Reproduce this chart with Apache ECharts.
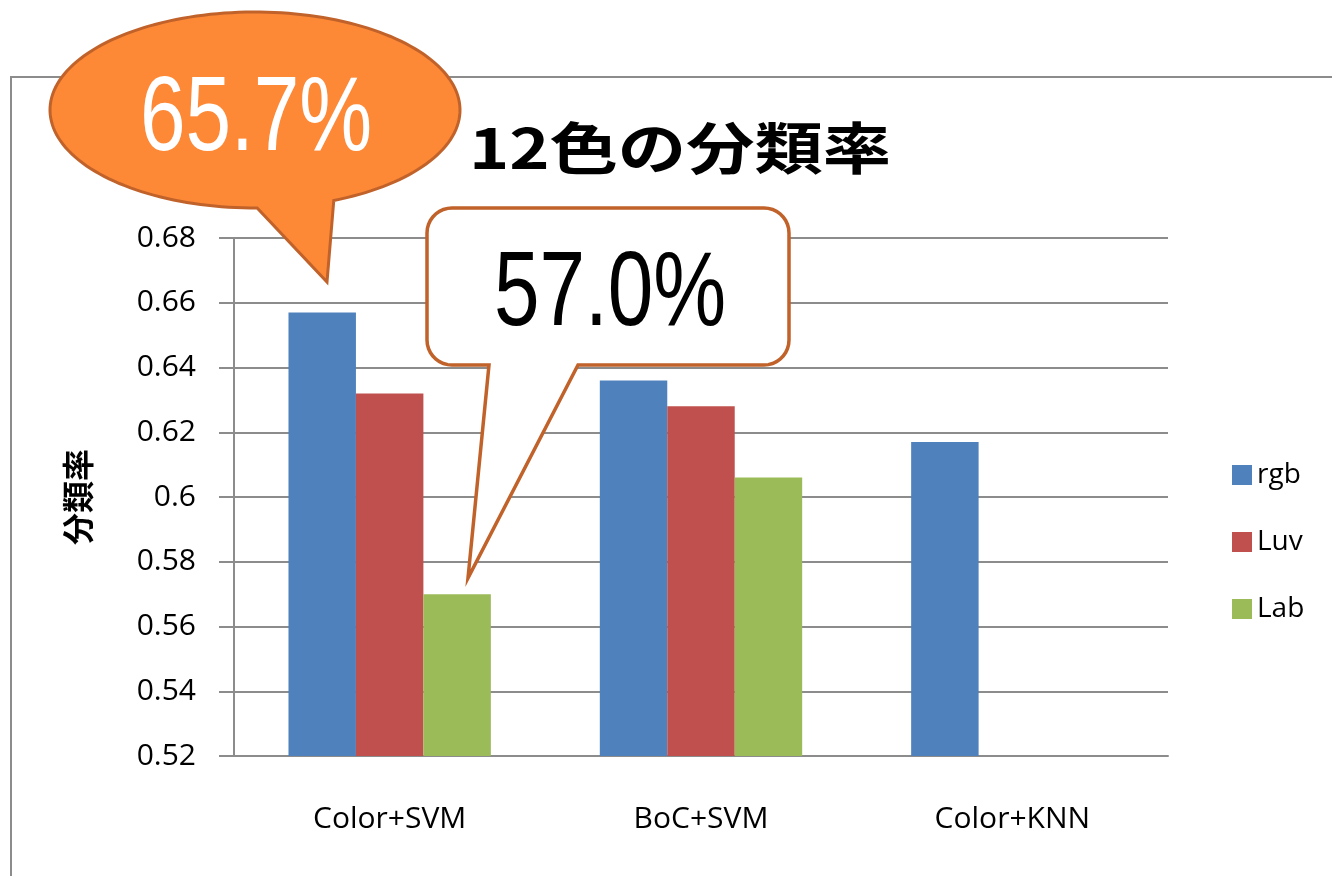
<!DOCTYPE html>
<html>
<head>
<meta charset="utf-8">
<script src="https://cdn.jsdelivr.net/npm/echarts@6/dist/echarts.min.js"></script>
<style>
  html, body { margin: 0; padding: 0; background: #fff; }
  #main { width: 1332px; height: 876px; }
</style>
</head>
<body>
<div id="main"></div>
<script>
// 分類手法
var categories = ['Color+SVM', 'BoC+SVM', 'Color+KNN'];
// 色空間ごとの分類率
var seriesNames = ['rgb', 'Luv', 'Lab'];
var rgbData = [0.657, 0.636, 0.617];
var luvData = [0.632, 0.628, null];
var labData = [0.570, 0.606, null];
var yMin = 0.52, yMax = 0.68, yStep = 0.02;
// 吹き出しの文字
var calloutOrange = '65.7%';
var calloutWhite = '57.0%';

var myChart = echarts.init(document.getElementById('main'));
var labelFont = '"Open Sans", "Noto Sans", sans-serif';
var gridGray = '#8c8c8c';

// 楕円の吹き出しの輪郭 (しっぽ付き)
function ellipseBubble(cx, cy, rx, ry, a0, a1, tip) {
    var pts = [];
    for (var a = a0; a <= a1; a += 2) {
        var t = a * Math.PI / 180;
        pts.push([cx + rx * Math.cos(t), cy + ry * Math.sin(t)]);
    }
    pts.push(tip);
    return pts;
}
// 角丸四角の吹き出しの輪郭 (下辺にしっぽ)
function roundBubble(x0, y0, x1, y1, r, baseL, baseR, tip) {
    var pts = [[baseL, y1]];
    function corner(cx, cy, from) {
        for (var a = from; a <= from + 90; a += 10) {
            var t = a * Math.PI / 180;
            pts.push([cx + r * Math.cos(t), cy + r * Math.sin(t)]);
        }
    }
    corner(x0 + r, y1 - r, 90);
    corner(x0 + r, y0 + r, 180);
    corner(x1 - r, y0 + r, 270);
    corner(x1 - r, y1 - r, 0);
    pts.push([baseR, y1]);
    pts.push(tip);
    return pts;
}

var option = {
    animation: false,
    color: ['#4F81BD', '#C0504D', '#9BBB59'],
    legend: {
        orient: 'vertical',
        left: 1227,
        top: 456,
        data: seriesNames,
        icon: 'rect',
        itemWidth: 20,
        itemHeight: 20,
        itemGap: 39,
        textStyle: {
            fontFamily: labelFont,
            fontSize: 28,
            color: '#000'
        }
    },
    grid: {
        left: 234,
        right: 164,
        top: 238,
        bottom: 120
    },
    xAxis: {
        type: 'category',
        data: categories,
        axisLine: { show: true, lineStyle: { color: gridGray, width: 2 } },
        axisTick: { show: false },
        axisLabel: {
            margin: 48,
            fontFamily: labelFont,
            fontSize: 30,
            color: '#000'
        }
    },
    yAxis: {
        type: 'value',
        min: yMin,
        max: yMax,
        interval: yStep,
        name: '分類率',
        nameLocation: 'middle',
        nameRotate: 90,
        nameGap: 140,
        nameTextStyle: {
            fontFamily: '"Noto Sans CJK JP", sans-serif',
            fontWeight: 'bold',
            fontSize: 32,
            color: '#000'
        },
        axisLine: { show: true, lineStyle: { color: gridGray, width: 2 } },
        axisTick: { show: true, inside: false, length: 15, lineStyle: { color: gridGray, width: 2 } },
        axisLabel: {
            margin: 38,
            fontFamily: labelFont,
            fontSize: 30,
            color: '#000'
        },
        splitLine: { show: true, lineStyle: { color: gridGray, width: 2 } }
    },
    series: [
        { name: 'rgb', type: 'bar', data: rgbData, barGap: '0%', barCategoryGap: '35%' },
        { name: 'Luv', type: 'bar', data: luvData, barGap: '0%', barCategoryGap: '35%' },
        { name: 'Lab', type: 'bar', data: labData, barGap: '0%', barCategoryGap: '35%' }
    ],
    graphic: [
        {   // 外枠
            type: 'rect',
            z: 0,
            silent: true,
            shape: { x: 11, y: 77, width: 1400, height: 900 },
            style: { fill: 'none', stroke: gridGray, lineWidth: 2 }
        },
        {   // タイトル
            type: 'text',
            z: 50,
            x: 680,
            y: 148,
            scaleX: 1.22,
            style: {
                text: '12色の分類率',
                x: 0, y: 0,
                align: 'center',
                verticalAlign: 'middle',
                fontFamily: '"Noto Sans CJK JP", sans-serif',
                fontWeight: 'bold',
                fontSize: 56,
                fill: '#000'
            }
        },
        {   // オレンジの吹き出し
            type: 'polygon',
            z: 100,
            shape: { points: ellipseBubble(255, 110, 205, 98, 89.4, 428, [327, 282]) },
            style: { fill: '#FD8836', stroke: '#C0622A', lineWidth: 3 }
        },
        {
            type: 'text',
            z: 101,
            x: 256,
            y: 121,
            scaleX: 0.78,
            style: {
                text: calloutOrange,
                x: 0, y: 0,
                align: 'center',
                verticalAlign: 'middle',
                fontFamily: '"Liberation Sans", Arial, sans-serif',
                fontSize: 105,
                fill: '#fff'
            }
        },
        {   // 白い吹き出し
            type: 'polygon',
            z: 100,
            shape: { points: roundBubble(427, 208, 789, 365, 25, 489, 578, [468, 578]) },
            style: { fill: '#fff', stroke: '#C0622A', lineWidth: 3.5 }
        },
        {
            type: 'text',
            z: 101,
            x: 610,
            y: 296,
            scaleX: 0.78,
            style: {
                text: calloutWhite,
                x: 0, y: 0,
                align: 'center',
                verticalAlign: 'middle',
                fontFamily: '"Liberation Sans", Arial, sans-serif',
                fontSize: 105,
                fill: '#000'
            }
        }
    ]
};
myChart.setOption(option);
</script>
</body>
</html>
